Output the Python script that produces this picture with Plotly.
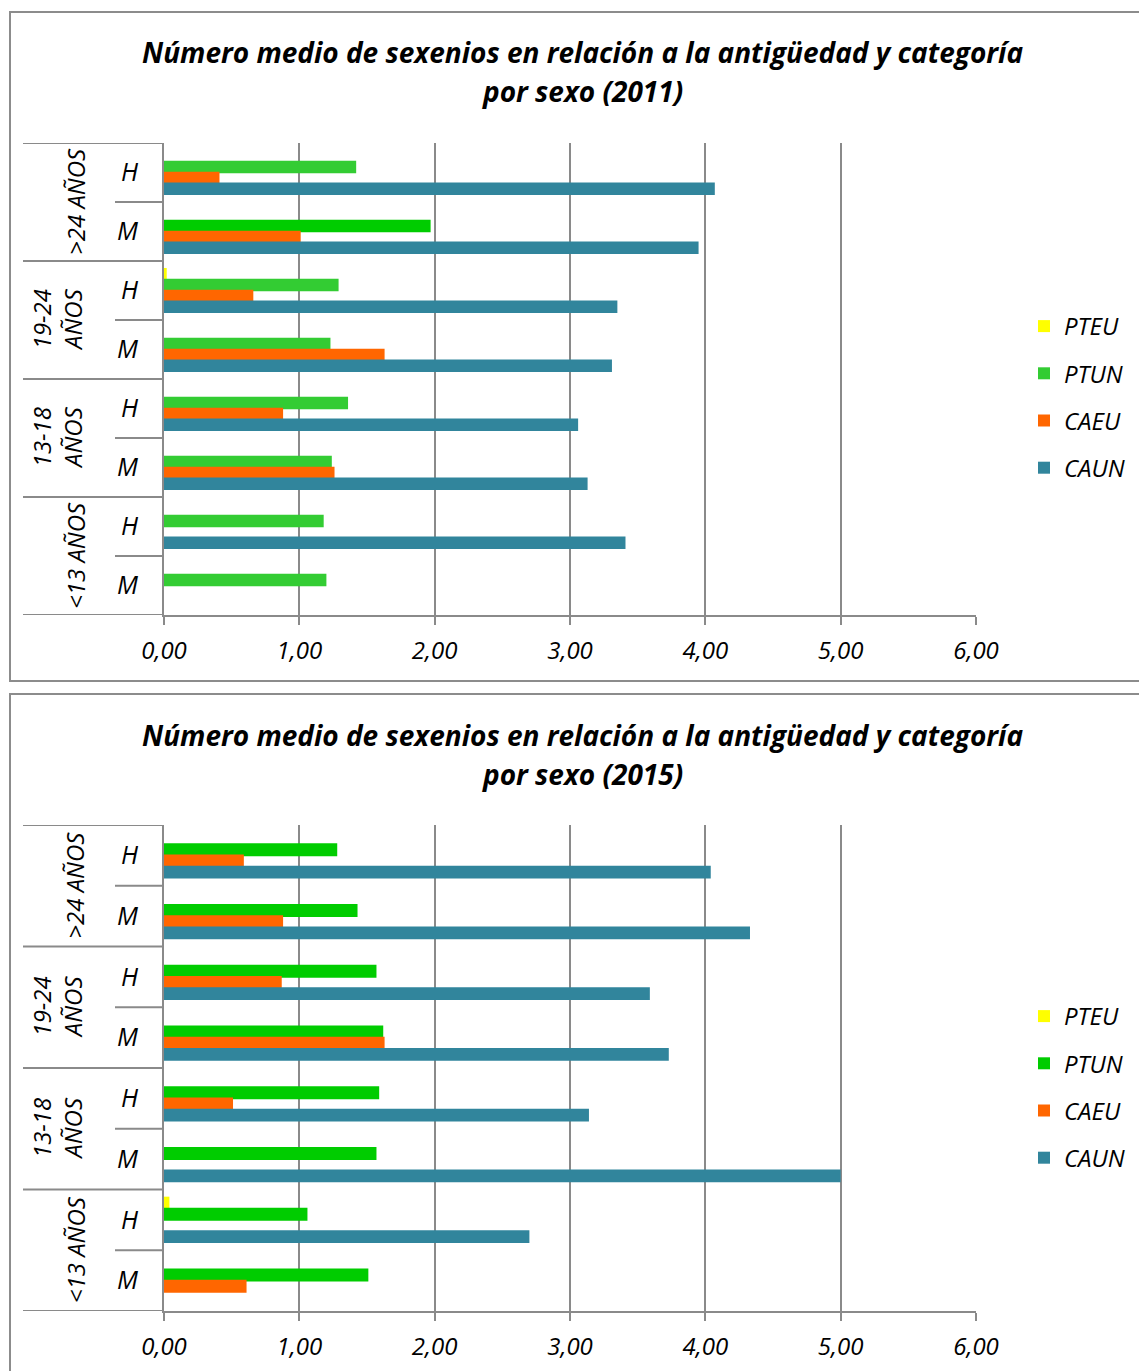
import plotly.graph_objects as go

W, H = 1139, 1371

# ---------------- data ----------------
age_groups = [">24 AÑOS", "19-24<br>AÑOS", "13-18<br>AÑOS", "<13 AÑOS"]
sex_labels = ["H", "M", "H", "M", "H", "M", "H", "M"]
series_names = ["PTEU", "PTUN", "CAEU", "CAUN"]
x_tick_vals = [0, 1, 2, 3, 4, 5, 6]
titles = ["Número medio de sexenios en relación a la antigüedad y categoría",
          "por sexo (2011)", "por sexo (2015)"]

pteu_2011 = [0, 0, 0.02, 0, 0, 0, 0, 0]
ptun_2011 = [1.42, 1.97, 1.29, 1.23, 1.36, 1.24, 1.18, 1.20]
caeu_2011 = [0.41, 1.01, 0.66, 1.63, 0.88, 1.26, 0, 0]
caun_2011 = [4.07, 3.95, 3.35, 3.31, 3.06, 3.13, 3.41, 0]

pteu_2015 = [0, 0, 0, 0, 0, 0, 0.04, 0]
ptun_2015 = [1.28, 1.43, 1.57, 1.62, 1.59, 1.57, 1.06, 1.51]
caeu_2015 = [0.59, 0.88, 0.87, 1.63, 0.51, 0, 0, 0.61]
caun_2015 = [4.04, 4.33, 3.59, 3.73, 3.14, 5.00, 2.70, 0]

# ---------------- styles ----------------
FONT = "Open Sans"
GRID = "#8a8a8a"
YELLOW, ORANGE, TEAL = "#FFFF00", "#FF6600", "#31859C"
GREEN_A, GREEN_B = "#33CC33", "#00CC00"
ptun_colors_2011 = [GREEN_A, GREEN_B, GREEN_A, GREEN_A, GREEN_A, GREEN_A, GREEN_A, GREEN_A]
ptun_colors_2015 = [GREEN_B] * 8


def px_x(x):
    return x / W


def px_y(y):
    return 1 - y / H


charts = [
    dict(year="2011", top=143, bottom=615, box=(12, 681), t1=52, t2=91, leg_top=304,
         data=[pteu_2011, ptun_2011, caeu_2011, caun_2011],
         colors=[YELLOW, ptun_colors_2011, ORANGE, TEAL], xa="x", ya="y", legend="legend"),
    dict(year="2015", top=825, bottom=1311, box=(694, 1380), t1=735, t2=774, leg_top=994,
         data=[pteu_2015, ptun_2015, caeu_2015, caun_2015],
         colors=[YELLOW, ptun_colors_2015, ORANGE, TEAL], xa="x2", ya="y2", legend="legend2"),
]

PLOT_X0, PLOT_X1 = 164, 976
STEP, BW = 0.184, 0.212
ypos = list(range(len(sex_labels)))

fig = go.Figure()
shapes, annotations = [], []

for ci, ch in enumerate(charts):
    for si, name in enumerate(series_names):
        center = (si - 1.5) * STEP
        fig.add_trace(go.Bar(
            orientation="h", x=ch["data"][si], y=ypos, name=name,
            marker=dict(color=ch["colors"][si], line=dict(width=0)),
            width=BW, offset=center - BW / 2,
            xaxis=ch["xa"], yaxis=ch["ya"], legend=ch["legend"],
            legendgroup=f"{ch['year']}{name}", showlegend=True,
        ))
    ax_suffix = "" if ci == 0 else "2"
    fig.update_layout(**{
        f"xaxis{ax_suffix}": dict(
            domain=[px_x(PLOT_X0), px_x(PLOT_X1)], range=[0, 6], anchor=ch["ya"],
            tickvals=x_tick_vals, tickformat=".2f", showgrid=True, gridcolor=GRID, gridwidth=2,
            zeroline=False, showline=True, linecolor=GRID, linewidth=2, automargin=False,
            ticks="outside", ticklen=8, tickcolor=GRID, tickwidth=2, ticklabelstandoff=5,
            tickfont=dict(family=FONT, size=24, color="black", style="italic"),
            fixedrange=True),
        f"yaxis{ax_suffix}": dict(
            domain=[px_y(ch["bottom"]), px_y(ch["top"])], range=[7.5, -0.5], anchor=ch["xa"],
            tickvals=ypos, ticktext=sex_labels, showgrid=False, zeroline=False, automargin=False,
            showline=True, linecolor=GRID, linewidth=2, ticks="", ticklabelstandoff=19,
            tickfont=dict(family=FONT, size=25, color="black", style="italic"),
            fixedrange=True),
        ch["legend"]: dict(
            x=px_x(1024), y=px_y(ch["leg_top"]), xanchor="left", yanchor="top",
            tracegroupgap=13, font=dict(family=FONT, size=24, color="black", style="italic"),
            bgcolor="rgba(0,0,0,0)", itemclick=False, itemdoubleclick=False),
    })
    yref = "y" if ci == 0 else "y2"
    # outer box
    shapes.append(dict(type="rect", xref="paper", yref="paper",
                       x0=px_x(10), x1=px_x(1150), y0=px_y(ch["box"][1]), y1=px_y(ch["box"][0]),
                       line=dict(color="#8c8c8c", width=2), fillcolor="rgba(0,0,0,0)", layer="below"))
    # category dividers in label area
    for b in [-0.5, 1.5, 3.5, 5.5, 7.5]:
        shapes.append(dict(type="line", xref="paper", yref=yref, x0=px_x(23), x1=px_x(PLOT_X0),
                           y0=b, y1=b, line=dict(color=GRID, width=2)))
    for b in [0.5, 2.5, 4.5, 6.5]:
        shapes.append(dict(type="line", xref="paper", yref=yref, x0=px_x(115), x1=px_x(PLOT_X0),
                           y0=b, y1=b, line=dict(color=GRID, width=2)))
    # age-group labels
    for gi, g in enumerate(age_groups):
        two = "<br>" in g
        annotations.append(dict(
            text=g, xref="paper", yref=yref, x=px_x(57 if two else 75), y=2 * gi + 0.5,
            textangle=-90, showarrow=False, xanchor="center", yanchor="middle",
            font=dict(family=FONT, size=24, color="black", style="italic")))
    # titles
    for li, (txt, ty) in enumerate([(titles[0], ch["t1"]), (titles[1 + ci], ch["t2"])]):
        annotations.append(dict(text=f"<b>{txt}</b>", xref="paper", yref="paper",
                                x=px_x(582), y=px_y(ty), showarrow=False,
                                xanchor="center", yanchor="middle",
                                font=dict(family=FONT, size=28, color="black", style="italic")))

fig.update_layout(
    width=W, height=H, margin=dict(l=0, r=0, t=0, b=0, autoexpand=False),
    paper_bgcolor="white", plot_bgcolor="white",
    barmode="overlay", separators=", ",
    shapes=shapes, annotations=annotations,
    font=dict(family=FONT, color="black"),
)

fig.write_html("out.html", config={"displayModeBar": False},
               post_script="document.body.style.margin='0';document.body.style.overflow='hidden';")
